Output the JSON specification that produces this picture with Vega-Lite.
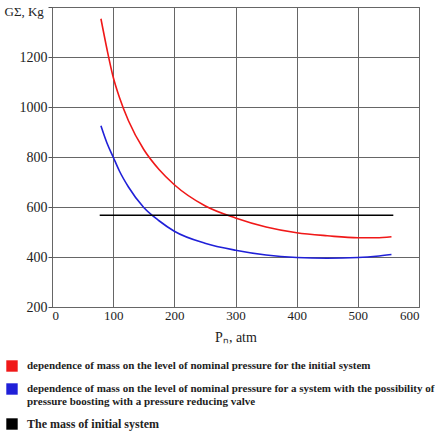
{
  "$schema": "https://vega.github.io/schema/vega-lite/v6.json",
  "width": 367,
  "height": 300,
  "autosize": {"type": "none"},
  "padding": {"left": 52, "top": 7, "right": 16, "bottom": 128},
  "background": "white",
  "config": {
    "view": {"stroke": "#555", "strokeWidth": 1},
    "font": "Liberation Serif"
  },
  "data": {
    "values": [
      {"p": 80, "g": 1353, "s": "dependence of mass on the level of nominal pressure for the initial system"},
      {"p": 90, "g": 1230, "s": "dependence of mass on the level of nominal pressure for the initial system"},
      {"p": 100, "g": 1120, "s": "dependence of mass on the level of nominal pressure for the initial system"},
      {"p": 110, "g": 1040, "s": "dependence of mass on the level of nominal pressure for the initial system"},
      {"p": 125, "g": 945, "s": "dependence of mass on the level of nominal pressure for the initial system"},
      {"p": 150, "g": 830, "s": "dependence of mass on the level of nominal pressure for the initial system"},
      {"p": 175, "g": 750, "s": "dependence of mass on the level of nominal pressure for the initial system"},
      {"p": 200, "g": 689, "s": "dependence of mass on the level of nominal pressure for the initial system"},
      {"p": 250, "g": 605, "s": "dependence of mass on the level of nominal pressure for the initial system"},
      {"p": 300, "g": 556, "s": "dependence of mass on the level of nominal pressure for the initial system"},
      {"p": 350, "g": 520, "s": "dependence of mass on the level of nominal pressure for the initial system"},
      {"p": 400, "g": 497, "s": "dependence of mass on the level of nominal pressure for the initial system"},
      {"p": 450, "g": 485, "s": "dependence of mass on the level of nominal pressure for the initial system"},
      {"p": 500, "g": 477, "s": "dependence of mass on the level of nominal pressure for the initial system"},
      {"p": 530, "g": 477, "s": "dependence of mass on the level of nominal pressure for the initial system"},
      {"p": 555, "g": 481, "s": "dependence of mass on the level of nominal pressure for the initial system"},
      {"p": 80, "g": 925, "s": "dependence of mass on the level of nominal pressure for a system with the possibility of|pressure boosting with a pressure reducing valve"},
      {"p": 90, "g": 855, "s": "dependence of mass on the level of nominal pressure for a system with the possibility of|pressure boosting with a pressure reducing valve"},
      {"p": 100, "g": 800, "s": "dependence of mass on the level of nominal pressure for a system with the possibility of|pressure boosting with a pressure reducing valve"},
      {"p": 110, "g": 745, "s": "dependence of mass on the level of nominal pressure for a system with the possibility of|pressure boosting with a pressure reducing valve"},
      {"p": 125, "g": 680, "s": "dependence of mass on the level of nominal pressure for a system with the possibility of|pressure boosting with a pressure reducing valve"},
      {"p": 150, "g": 598, "s": "dependence of mass on the level of nominal pressure for a system with the possibility of|pressure boosting with a pressure reducing valve"},
      {"p": 175, "g": 545, "s": "dependence of mass on the level of nominal pressure for a system with the possibility of|pressure boosting with a pressure reducing valve"},
      {"p": 200, "g": 503, "s": "dependence of mass on the level of nominal pressure for a system with the possibility of|pressure boosting with a pressure reducing valve"},
      {"p": 250, "g": 455, "s": "dependence of mass on the level of nominal pressure for a system with the possibility of|pressure boosting with a pressure reducing valve"},
      {"p": 300, "g": 427, "s": "dependence of mass on the level of nominal pressure for a system with the possibility of|pressure boosting with a pressure reducing valve"},
      {"p": 350, "g": 408, "s": "dependence of mass on the level of nominal pressure for a system with the possibility of|pressure boosting with a pressure reducing valve"},
      {"p": 400, "g": 398, "s": "dependence of mass on the level of nominal pressure for a system with the possibility of|pressure boosting with a pressure reducing valve"},
      {"p": 450, "g": 395, "s": "dependence of mass on the level of nominal pressure for a system with the possibility of|pressure boosting with a pressure reducing valve"},
      {"p": 500, "g": 398, "s": "dependence of mass on the level of nominal pressure for a system with the possibility of|pressure boosting with a pressure reducing valve"},
      {"p": 530, "g": 403, "s": "dependence of mass on the level of nominal pressure for a system with the possibility of|pressure boosting with a pressure reducing valve"},
      {"p": 555, "g": 410, "s": "dependence of mass on the level of nominal pressure for a system with the possibility of|pressure boosting with a pressure reducing valve"},
      {"p": 78, "g": 567, "s": "The mass of initial system"},
      {"p": 558, "g": 567, "s": "The mass of initial system"}
    ]
  },
  "mark": {"type": "line", "strokeWidth": 1.6, "interpolate": "monotone"},
  "encoding": {
    "x": {
      "field": "p",
      "type": "quantitative",
      "scale": {"domain": [0, 600], "nice": false, "zero": false},
      "axis": {
        "values": [0, 100, 200, 300, 400, 500, 600],
        "title": "Pₙ,  atm",
        "titleFont": "Liberation Serif",
        "titleFontSize": 14,
        "titleFontWeight": "normal",
        "titleColor": "#222",
        "titlePadding": 8,
        "labelFont": "Liberation Serif",
        "labelFontSize": 13,
        "labelColor": "#222",
        "labelPadding": 2,
        "ticks": false,
        "domain": false,
        "gridColor": "#666",
        "gridOpacity": 1,
        "gridWidth": 1
      }
    },
    "y": {
      "field": "g",
      "type": "quantitative",
      "scale": {"domain": [200, 1400], "nice": false, "zero": false},
      "axis": {
        "values": [200, 400, 600, 800, 1000, 1200, 1400],
        "labelExpr": "datum.value == 1400 ? '' : datum.label",
        "format": "d",
        "title": "GΣ, Kg",
        "titleAngle": 0,
        "titleAlign": "left",
        "titleBaseline": "alphabetic",
        "titleX": -48,
        "titleY": 8,
        "titleFont": "Liberation Serif",
        "titleFontSize": 13,
        "titleFontWeight": "normal",
        "titleColor": "#222",
        "labelFont": "Liberation Serif",
        "labelFontSize": 14,
        "labelColor": "#222",
        "labelPadding": 1,
        "tickSize": 4,
        "tickColor": "#555",
        "domain": false,
        "gridColor": "#666",
        "gridOpacity": 1,
        "gridWidth": 1
      }
    },
    "color": {
      "field": "s",
      "type": "nominal",
      "scale": {
        "domain": [
          "dependence of mass on the level of nominal pressure for the initial system",
          "dependence of mass on the level of nominal pressure for a system with the possibility of|pressure boosting with a pressure reducing valve",
          "The mass of initial system"
        ],
        "range": ["#f01818", "#2020d8", "#000000"]
      },
      "legend": {
        "orient": "none",
        "legendX": -46,
        "legendY": 353,
        "title": null,
        "symbolType": "square",
        "symbolSize": 130,
        "symbolStrokeWidth": 0,
        "labelExpr": "split(datum.label, '|')",
        "labelFont": "Liberation Serif",
        "labelFontWeight": "bold",
        "labelFontSize": 11,
        "labelColor": "#222",
        "labelLimit": 430,
        "labelOffset": 9,
        "rowPadding": 11,
        "encode": {
          "symbols": {
            "update": {
              "fill": {"scale": "color", "field": "value"},
              "fillOpacity": {"value": 1}
            }
          },
          "labels": {
            "update": {
              "fontSize": {"signal": "datum.index == 2 ? 12 : 11"}
            }
          }
        }
      }
    }
  }
}
